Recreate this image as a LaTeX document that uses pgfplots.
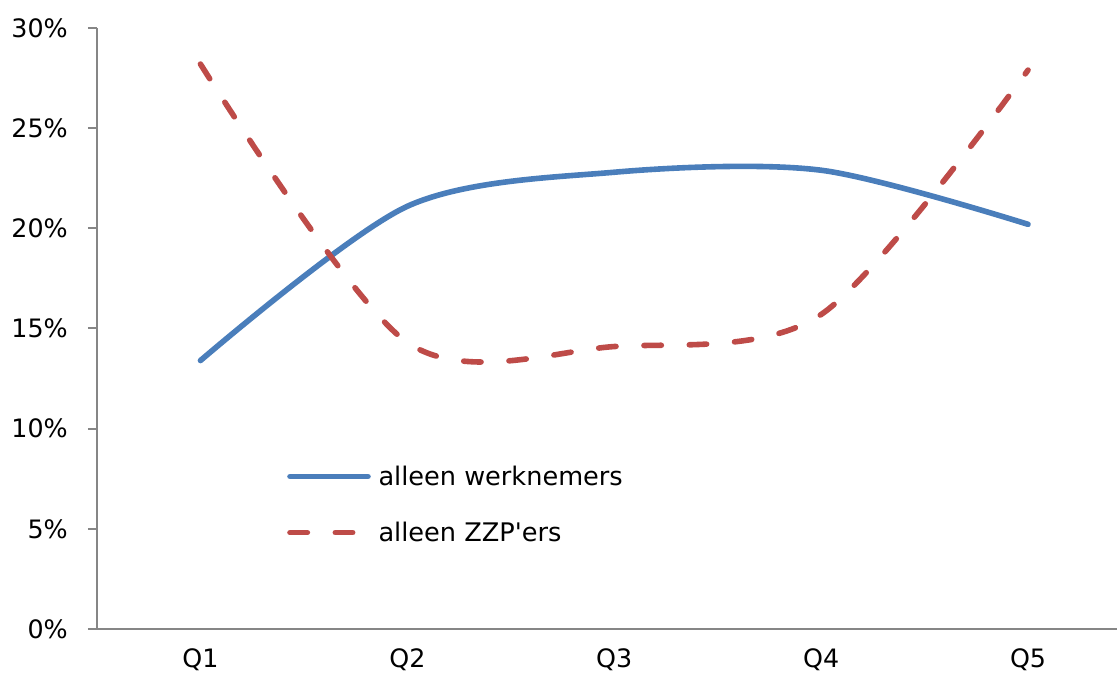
\documentclass[border=0pt]{standalone}
\usepackage{fontspec}
\setmainfont{DejaVu Sans}
\newfontfamily\plainfont{DejaVu Sans}
\usepackage{pgfplots}
\pgfplotsset{compat=1.18}
\definecolor{bluel}{HTML}{4A7EBB}
\definecolor{redl}{HTML}{BE4B48}
\definecolor{axgray}{HTML}{868686}
\pgfplotsset{
  bluelegend/.style={legend image code/.code={\draw[##1] (0pt,0pt) -- (58.5pt,0pt);\path (62.3pt,0pt);}},
  redlegend/.style={legend image code/.code={\draw[##1] (0pt,0pt) -- (47pt,0pt);}},
}
\begin{document}
\begin{tikzpicture}
\useasboundingbox (-72.75pt,-33pt) rectangle (767.25pt,471.75pt);
\begin{axis}[
  scale only axis,
  width=765pt, height=450.75pt,
  xmin=0.5, xmax=5.43,
  ymin=0, ymax=30,
  axis lines*=left,
  axis line style={axgray, line width=1.5pt, -},
  xtick={1,2,3,4,5},
  xticklabels={Q1,Q2,Q3,Q4,Q5},
  ytick={0,5,10,15,20,25,30},
  yticklabel={\pgfmathprintnumber{\tick}\%},
  /pgf/number format/assume math mode=true,
  tick align=outside,
  major tick length=6.75pt,
  xtick style={draw=none},
  ytick style={axgray, line width=1.5pt},
  ticklabel style={font=\fontsize{19}{23}\selectfont},
  yticklabel style={anchor=east, inner sep=0pt, xshift=-15pt},
  xticklabel style={anchor=base, inner sep=0pt, yshift=-22.5pt},
  clip=false,
  legend style={at={(axis cs:1.418,6.21)}, anchor=west, draw=none, fill=none,
    font=\fontsize{19.2}{23}\selectfont, row sep=22pt, inner sep=0pt},
  legend cell align=left,
]
\addplot[bluel, line width=4.2pt, smooth, line cap=round, bluelegend]
  coordinates {(1,13.4) (2,21.1) (3,22.8) (4,22.9) (5,20.2)};
\addlegendentry{alleen werknemers}
\addplot[redl, line width=4.2pt, smooth, line cap=round,
  dash pattern=on 13pt off 21pt, redlegend]
  coordinates {(1,28.2) (2,14.3) (3,14.1) (4,15.7) (5,27.9)};
\addlegendentry{alleen ZZP{\plainfont '}ers}
\end{axis}
\end{tikzpicture}
\end{document}
